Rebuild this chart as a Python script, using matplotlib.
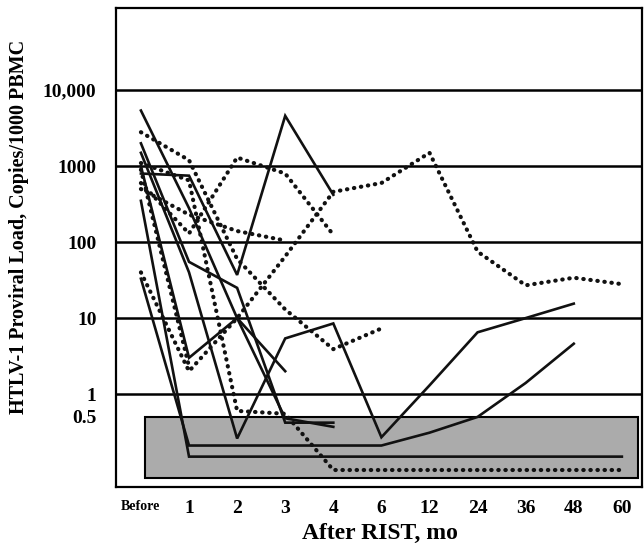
import matplotlib.pyplot as plt
import numpy as np
from matplotlib.patches import Rectangle

nan = np.nan

# sampling points after RIST (months)
months = ['Before', '1', '2', '3', '4', '6', '12', '24', '36', '48', '60']
ytick_vals = [0.5, 1, 10, 100, 1000, 10000]
ytick_labels = ['0.5', '1', '10', '100', '1000', '10,000']
detect_limit = 0.5
box_floor = 0.079

# proviral load per patient, solid-line patients
pt_a = [800, 750, 37, 4600, 420, nan, nan, nan, nan, nan, nan]
pt_b = [5400, 280, 10, 0.48, 0.37, nan, nan, nan, nan, nan, nan]
pt_c = [1500, 40, 0.26, 5.4, 8.5, 0.27, 1.3, 6.5, 10, 15.5, nan]
pt_d = [33, 0.21, 0.21, 0.21, 0.21, 0.21, 0.31, 0.5, 1.4, 4.6, nan]
pt_e = [350, 0.15, 0.15, 0.15, 0.15, 0.15, 0.15, 0.15, 0.15, 0.15, 0.15]
pt_f = [1000, 3, 10, 2, nan, nan, nan, nan, nan, nan, nan]
pt_g = [2000, 55, 25, 0.42, 0.42, nan, nan, nan, nan, nan, nan]

# dotted-line patients
pt_h = [40, 2, 10, 65, 460, 600, 1500, 75, 27, 34, 28]
pt_i = [2800, 1200, 60, 13, 3.9, 7.3, nan, nan, nan, nan, nan]
pt_j = [500, 230, 140, 105, nan, nan, nan, nan, nan, nan, nan]
pt_k = [600, 130, 1300, 800, 125, nan, nan, nan, nan, nan, nan]
pt_l = [1100, 650, 0.6, 0.55, 0.1, 0.1, 0.1, 0.1, 0.1, 0.1, 0.1]
pt_m = [900, 2.3, nan, nan, nan, nan, nan, nan, nan, nan, nan]

solid_pts = [pt_a, pt_b, pt_c, pt_d, pt_e, pt_f, pt_g]
dotted_pts = [pt_h, pt_i, pt_j, pt_k, pt_l, pt_m]

plt.rcParams['font.family'] = 'Liberation Serif'
plt.rcParams['font.weight'] = 'bold'

fig = plt.figure(figsize=(6.44, 5.5), dpi=100)
ax = fig.add_axes([0.180, 0.1145, 0.817, 0.8705])

x = np.arange(len(months))

# shaded region below the detection limit
ax.add_patch(Rectangle((0.08, box_floor), 10.25, detect_limit - box_floor,
                       facecolor='#ababab', edgecolor='black', linewidth=1.5, zorder=1))

for v in [1, 10, 100, 1000, 10000]:
    ax.axhline(v, color='black', linewidth=1.8, zorder=2)

for pt in solid_pts:
    y = np.array(pt, dtype=float)
    ok = ~np.isnan(y)
    ax.plot(x[ok], y[ok], color='#111111', linewidth=1.9, zorder=3,
            solid_joinstyle='miter')

for pt in dotted_pts:
    y = np.array(pt, dtype=float)
    ok = ~np.isnan(y)
    ax.plot(x[ok], y[ok], color='#111111', linewidth=3.0, zorder=3,
            linestyle=(0, (0.1, 1.6)), dash_capstyle='round')

ax.set_yscale('log')
ax.set_ylim(0.0597, 1.2e5)
ax.set_xlim(-0.52, 10.42)

ax.set_yticks(ytick_vals)
ax.set_yticklabels(ytick_labels, fontsize=14, fontweight='bold')
ax.yaxis.set_minor_locator(plt.NullLocator())
ax.set_xticks(x)
ax.set_xticklabels(months, fontsize=14, fontweight='bold')
ax.get_xticklabels()[0].set_fontsize(10)
ax.tick_params(axis='both', length=0)
ax.tick_params(axis='y', pad=14)
ax.tick_params(axis='x', pad=9)

for s in ax.spines.values():
    s.set_linewidth(1.6)
    s.set_color('black')

ax.set_ylabel('HTLV-1 Proviral Load, Copies/1000 PBMC', fontsize=14.5, fontweight='bold')
ax.yaxis.set_label_coords(-0.165, 0.543)
ax.set_xlabel('After RIST, mo', fontsize=17, fontweight='bold')
ax.xaxis.set_label_coords(0.502, -0.076)

fig.savefig('out.png', dpi=100)
